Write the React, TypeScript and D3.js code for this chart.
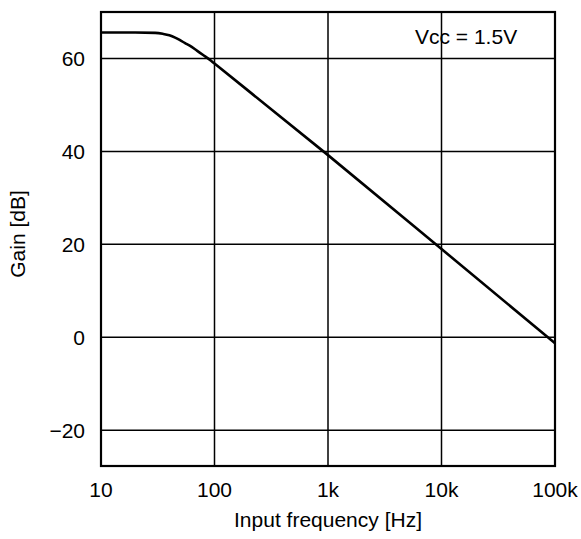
import React, { useEffect, useRef } from "react";
import * as d3 from "d3";

// gain curve (Hz, dB)
const freqs = [10, 20, 30, 35, 40, 45, 50, 55, 60, 70, 80, 90, 100, 1000, 10000, 100000];
const gains = [65.6, 65.6, 65.5, 65.3, 65.0, 64.5, 63.9, 63.3, 62.8, 61.7, 60.7, 59.8, 58.9, 39.2, 19.0, -1.3];

const xTicks = [10, 100, 1000, 10000, 100000];
const xTickLabels = ["10", "100", "1k", "10k", "100k"];
const yTicks = [-20, 0, 20, 40, 60];

const App = () => {
  const ref = useRef<SVGSVGElement>(null);

  useEffect(() => {
    const width = 581;
    const height = 539;
    const m = { top: 12, right: 26, bottom: 73, left: 101 };

    const svg = d3.select(ref.current).attr("width", width).attr("height", height);
    svg.selectAll("*").remove();

    const x = d3.scaleLog().domain([10, 100000]).range([m.left, width - m.right]);
    const y = d3.scaleLinear().domain([-27.7, 70]).range([height - m.bottom, m.top]);

    svg.append("rect").attr("width", width).attr("height", height).attr("fill", "#fff");

    // grid
    svg.selectAll(".gx")
      .data(xTicks)
      .enter()
      .append("line")
      .attr("x1", d => x(d))
      .attr("x2", d => x(d))
      .attr("y1", m.top)
      .attr("y2", height - m.bottom)
      .attr("stroke", "#000")
      .attr("stroke-width", 1.5);

    svg.selectAll(".gy")
      .data(yTicks)
      .enter()
      .append("line")
      .attr("x1", m.left)
      .attr("x2", width - m.right)
      .attr("y1", d => y(d))
      .attr("y2", d => y(d))
      .attr("stroke", "#000")
      .attr("stroke-width", 1.5);

    // frame
    svg.append("rect")
      .attr("x", m.left)
      .attr("y", m.top)
      .attr("width", width - m.left - m.right)
      .attr("height", height - m.top - m.bottom)
      .attr("fill", "none")
      .attr("stroke", "#000")
      .attr("stroke-width", 2.2);

    const font = "Liberation Sans, Arial, sans-serif";
    const fs = 21;

    // tick labels
    svg.selectAll(".xl")
      .data(xTicks)
      .enter()
      .append("text")
      .attr("x", d => x(d))
      .attr("y", height - m.bottom + 31)
      .attr("text-anchor", "middle")
      .attr("font-family", font)
      .attr("font-size", fs)
      .text((_, i) => xTickLabels[i]);

    svg.selectAll(".yl")
      .data(yTicks)
      .enter()
      .append("text")
      .attr("x", m.left - 16)
      .attr("y", d => y(d) + 7.5)
      .attr("text-anchor", "end")
      .attr("font-family", font)
      .attr("font-size", fs)
      .text(d => (d < 0 ? "\u2212" + Math.abs(d) : String(d)));

    // curve
    const line = d3.line<number>()
      .x((_, i) => x(freqs[i]))
      .y(d => y(d))
      .curve(d3.curveMonotoneX);

    svg.append("path")
      .datum(gains)
      .attr("d", line)
      .attr("fill", "none")
      .attr("stroke", "#000")
      .attr("stroke-width", 2.6);

    // annotation
    svg.append("text")
      .attr("x", 415)
      .attr("y", 44)
      .attr("font-family", font)
      .attr("font-size", fs)
      .text("Vcc = 1.5V");

    // axis titles
    svg.append("text")
      .attr("x", (m.left + width - m.right) / 2)
      .attr("y", height - 12)
      .attr("text-anchor", "middle")
      .attr("font-family", font)
      .attr("font-size", fs)
      .text("Input frequency [Hz]");

    svg.append("text")
      .attr("transform", `translate(25,${(m.top + height - m.bottom) / 2 - 5}) rotate(-90)`)
      .attr("text-anchor", "middle")
      .attr("font-family", font)
      .attr("font-size", fs)
      .text("Gain [dB]");
  }, []);

  return <svg ref={ref} style={{ display: "block", position: "absolute", left: 0, top: 0 }}></svg>;
};

export default App;
